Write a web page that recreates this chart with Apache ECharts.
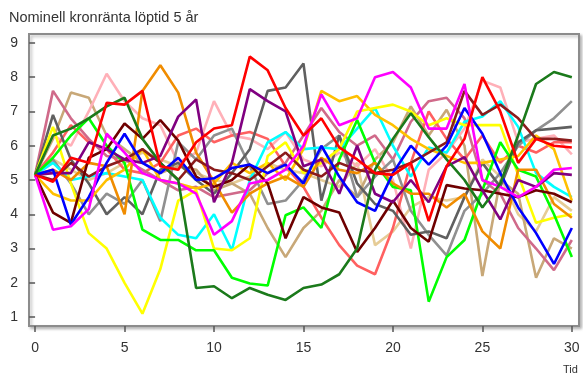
<!DOCTYPE html>
<html>
<head>
<meta charset="utf-8">
<script src="https://cdn.jsdelivr.net/npm/echarts@6/dist/echarts.min.js"></script>
<style>
  html, body { margin: 0; padding: 0; background: #fff; }
  #chart { width: 583px; height: 381px; }
</style>
</head>
<body>
<div id="chart"></div>
<script>
// Time steps (Tid) 0..30 and tick labels
const tid = Array.from({ length: 31 }, (_, i) => i);
const xTicks = [0, 5, 10, 15, 20, 25, 30];
const yTicks = [1, 2, 3, 4, 5, 6, 7, 8, 9];

// Simulated paths of the nominal 5-year krona rate
const red       = [5.15,4.95,5.65,5.5,7.25,7.2,7.6,5.4,5.3,6.1,6.5,6.6,8.6,8.2,7.1,6.3,6.8,5.95,5.6,5.2,5.15,5.5,3.8,5.4,6.2,8.0,7.0,5.5,6.2,6.0,5.95];
const lime      = [5.15,5.65,6.3,6.8,6.0,5.5,3.55,3.25,3.25,2.95,2.95,2.15,1.98,1.92,3.97,4.2,3.6,5.6,6.75,5.5,4.8,4.7,1.45,2.75,3.25,4.7,6.1,5.3,5.1,4.0,2.75];
const darkGreen = [5.15,6.3,6.5,6.8,7.15,7.4,6.2,5.5,5.0,1.85,1.9,1.55,1.85,1.65,1.5,1.85,1.95,2.25,3.0,5.3,6.2,6.95,6.25,5.6,5.0,4.2,4.9,6.3,7.8,8.15,8.0];
const blue      = [5.15,5.3,3.7,4.5,5.5,6.35,5.5,5.2,5.65,5.0,5.05,5.35,5.45,5.2,5.45,4.9,6.0,5.1,4.35,4.1,5.2,6.0,5.45,6.0,7.1,6.35,5.2,4.2,3.45,2.55,3.6];
const cyan      = [5.15,5.5,5.0,5.1,5.2,5.1,5.0,3.9,3.4,3.3,4.0,2.95,5.0,6.1,6.4,5.9,5.95,5.9,6.5,7.1,6.0,5.1,5.95,5.8,6.7,6.85,7.3,6.55,5.2,4.8,4.5];
const magenta   = [5.15,3.55,3.65,4.15,6.35,5.8,5.2,5.0,4.9,4.6,3.4,3.8,4.9,5.0,5.3,6.0,7.5,6.6,6.8,8.0,8.15,7.7,6.5,6.5,7.8,5.0,4.8,4.5,4.8,5.3,5.35];
const yellow    = [5.15,6.55,4.9,3.45,3.0,2.0,1.1,2.4,4.4,4.7,3.0,2.95,3.3,5.7,6.1,5.2,5.5,5.9,7.0,7.1,7.2,7.0,6.6,6.8,6.6,6.6,6.6,5.15,3.75,3.9,4.0];
const gold      = [5.15,4.6,4.4,4.4,5.0,5.3,5.9,5.0,4.9,4.75,4.9,5.5,5.2,5.5,5.0,5.9,7.6,7.3,7.45,6.9,6.6,6.2,5.9,5.7,5.5,5.5,5.6,5.7,6.3,5.9,4.4];
const darkOrange= [5.15,5.3,5.0,5.5,5.4,4.0,7.6,8.35,7.55,5.8,4.95,4.05,4.6,4.9,5.1,4.8,5.65,5.3,5.2,5.5,4.9,4.6,4.6,4.2,4.6,3.5,3.0,5.3,5.3,4.3,3.9];
const purple    = [5.15,5.2,5.2,6.1,5.9,5.6,5.5,5.7,6.85,7.35,4.35,5.5,7.65,7.3,7.0,5.4,5.6,4.6,6.0,4.6,4.35,5.0,4.35,5.4,5.67,4.7,3.85,5.0,4.8,5.2,5.15];
const maroon    = [5.15,4.05,3.75,5.65,5.9,6.65,6.2,6.75,6.15,5.1,4.8,5.0,5.45,4.9,3.3,4.5,4.2,4.05,2.9,3.6,4.4,3.6,3.2,4.85,4.75,4.7,4.6,4.5,4.7,4.6,4.35];
const brown     = [5.15,5.0,5.5,5.1,5.4,5.6,5.9,5.5,5.0,5.6,5.3,5.2,5.0,5.4,5.8,5.3,5.1,5.5,5.3,5.2,5.3,5.5,5.8,6.1,7.6,6.9,7.2,6.8,6.2,6.2,6.15];
const gray      = [5.15,5.6,4.9,4.0,4.6,4.3,5.0,3.8,6.1,5.6,6.3,6.5,5.4,4.3,4.4,5.0,5.9,6.3,4.5,5.1,5.6,4.1,3.4,2.8,4.1,4.6,5.2,6.0,6.45,6.8,7.3];
const dimGray   = [5.15,6.9,5.6,4.9,4.0,4.5,4.0,5.3,5.5,5.0,4.6,5.2,5.9,7.6,7.7,8.4,4.4,6.3,4.9,4.3,4.1,3.4,3.5,3.3,4.5,5.5,4.8,6.1,6.45,6.5,6.55];
const pink      = [5.15,6.3,6.0,7.0,8.1,7.3,6.8,6.6,5.5,5.8,7.3,6.3,6.2,5.9,6.4,5.6,5.4,5.8,5.4,5.9,5.0,3.0,5.3,5.8,6.5,7.9,7.7,6.1,6.2,6.3,5.75];
const salmon    = [5.15,5.8,6.6,6.1,5.9,5.3,5.2,5.5,6.3,6.5,6.1,6.3,6.4,6.2,5.4,4.8,3.9,3.1,2.5,2.25,3.6,5.5,7.0,6.2,5.6,6.3,5.5,6.0,5.8,6.1,6.1];
const tan       = [5.15,6.2,7.55,7.4,6.3,5.9,5.5,5.2,5.4,5.3,4.7,4.9,4.6,3.6,2.75,3.6,4.1,5.0,4.5,5.6,6.1,7.15,6.3,7.05,6.0,2.2,5.0,4.6,2.15,3.3,3.0];
const wheat     = [5.15,5.6,5.3,5.0,5.2,5.5,5.8,5.6,5.4,5.2,5.0,4.9,5.1,5.5,5.3,5.2,5.0,4.8,5.5,3.1,3.5,4.2,4.5,4.4,4.5,5.6,5.1,4.0,3.5,4.5,4.1];
const mauve     = [5.15,7.6,6.8,6.2,5.7,5.6,5.3,5.0,4.7,4.8,4.5,4.6,4.7,5.2,5.5,6.3,7.1,6.4,6.0,6.3,5.6,6.7,7.3,7.4,6.8,5.0,4.6,3.6,3.0,2.37,3.25];

const paths = [
  { values: wheat,      color: '#e6cc96' },
  { values: tan,        color: '#c8a878' },
  { values: pink,       color: '#ffb0b8' },
  { values: salmon,     color: '#ff6060' },
  { values: mauve,      color: '#d06a8a' },
  { values: gray,       color: '#909090' },
  { values: dimGray,    color: '#606060' },
  { values: cyan,       color: '#00ffff' },
  { values: gold,       color: '#ffc000' },
  { values: yellow,     color: '#ffff00' },
  { values: lime,       color: '#00ff00' },
  { values: darkOrange, color: '#f08c00' },
  { values: brown,      color: '#8b1c1c' },
  { values: maroon,     color: '#6e0000' },
  { values: purple,     color: '#800080' },
  { values: blue,       color: '#0000ff' },
  { values: magenta,    color: '#ff00ff' },
  { values: darkGreen,  color: '#1b7a1b' },
  { values: red,        color: '#ff0000' }
];

const FONT = '"Liberation Sans", Arial, sans-serif';
const chart = echarts.init(document.getElementById('chart'), null, { renderer: 'canvas' });

chart.setOption({
  animation: false,
  backgroundColor: '#ffffff',
  title: {
    text: 'Nominell kronränta löptid 5 år',
    left: 4, top: 5,
    textStyle: { fontFamily: FONT, fontSize: 14.5, fontWeight: 'normal', color: '#333' }
  },
  grid: {
    left: 29, right: 4, top: 34, bottom: 55,
    show: true,
    borderColor: '#8c8c8c', borderWidth: 2,
    shadowColor: 'rgba(0,0,0,0.25)', shadowBlur: 3, shadowOffsetX: 2, shadowOffsetY: 2,
    backgroundColor: '#ffffff'
  },
  xAxis: {
    type: 'value',
    min: -0.34, max: 30.4,
    splitLine: { show: false },
    axisLine: { show: false },
    axisTick: { show: true, length: 6, customValues: xTicks, lineStyle: { color: '#555', width: 1.5 } },
    axisLabel: { customValues: xTicks, margin: 15, fontFamily: FONT, fontSize: 14, color: '#333' }
  },
  yAxis: {
    type: 'value',
    min: 0.74, max: 9.26,
    splitLine: { show: false },
    axisLine: { show: false },
    axisTick: { show: true, length: 6, customValues: yTicks, lineStyle: { color: '#555', width: 1.5 } },
    axisLabel: { customValues: yTicks, margin: 11, fontFamily: FONT, fontSize: 14, color: '#333' }
  },
  graphic: [{
    type: 'text', left: 563, top: 364,
    style: { text: 'Tid', font: '11px ' + FONT, fill: '#333' }
  }],
  series: paths.map(p => ({
    type: 'line',
    data: tid.map((t, i) => [t, p.values[i]]),
    showSymbol: false,
    lineStyle: { color: p.color, width: 2.6 },
    itemStyle: { color: p.color }
  }))
});
</script>
</body>
</html>
